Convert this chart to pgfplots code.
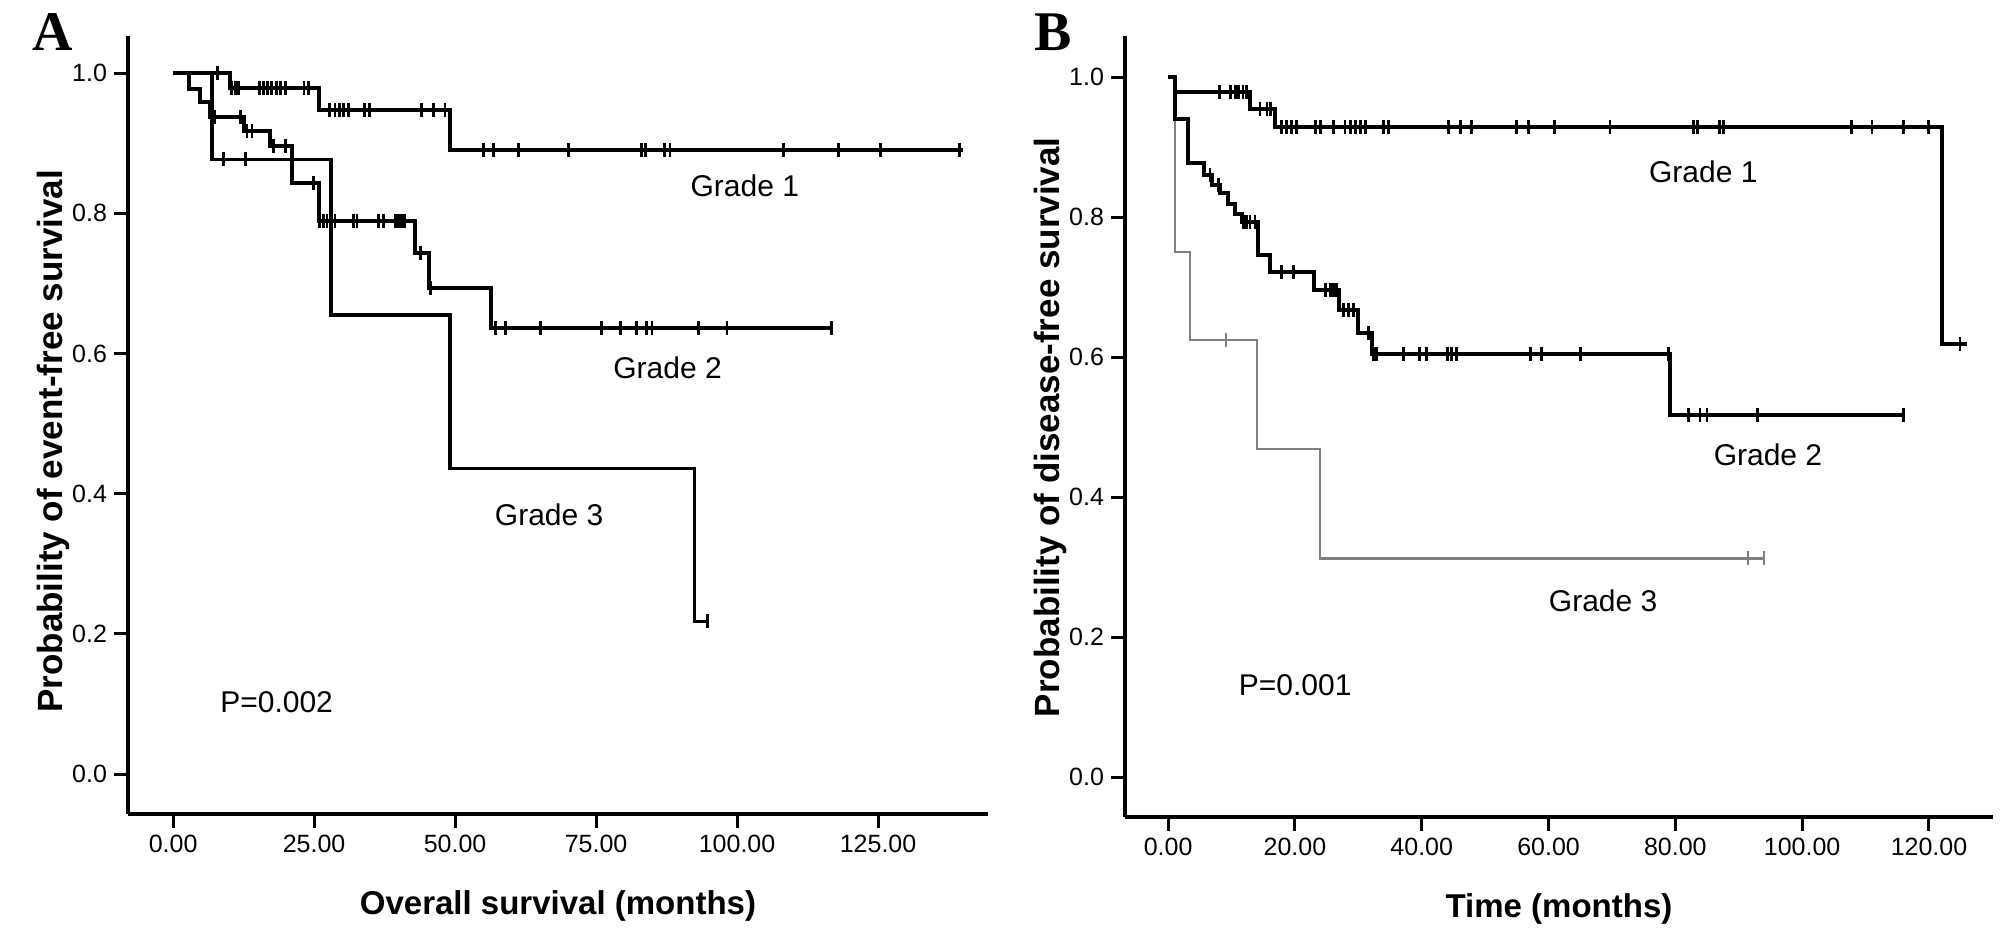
\documentclass[border=0pt]{standalone}
\usepackage{fontspec}
\setmainfont{Liberation Sans}
\newfontfamily\panelfont{Liberation Serif}
\usepackage{pgfplots}
\pgfplotsset{compat=1.18}

\pgfplotsset{
  kmaxis/.style={
    scale only axis,
    axis x line*=bottom, axis y line*=left,
    axis line style={line width=1.8pt},
    every tick/.style={black, line width=1.5pt},
    tick align=outside,
    major tick length=7pt,
    ytick={0,0.2,0.4,0.6,0.8,1.0},
    tick label style={font=\fontsize{12.5}{14}\selectfont},
    /pgf/number format/assume math mode=true,
    yticklabel style={/pgf/number format/.cd, fixed, fixed zerofill, precision=1},
    xticklabel style={/pgf/number format/.cd, fixed, fixed zerofill, precision=2, 1000 sep={}},
    xlabel style={font=\fontsize{16.5}{19}\selectfont\bfseries, at={([yshift=-38pt]axis description cs:0.5,0)}, anchor=north, inner sep=0pt},
    clip=false,
  },
  km/.style={const plot mark left, line width=2pt, black, no marks},
  cens/.style={only marks, mark=|, mark size=3.5pt, mark options={line width=1.4pt}, black},
}
\tikzset{gtext/.style={anchor=west, font=\fontsize{15}{17}\selectfont, inner sep=0pt}}

\begin{document}
\begin{tikzpicture}
\useasboundingbox (0,0) rectangle (1004pt,468.5pt);

\node[anchor=north west, inner sep=0pt, font=\fontsize{28}{30}\panelfont\bfseries] at (16pt,462pt) {A};
\node[anchor=north west, inner sep=0pt, font=\fontsize{28}{30}\panelfont\bfseries] at (517pt,462pt) {B};

% ---------------- Panel A ----------------
\begin{axis}[kmaxis,
  at={(64pt,61.5pt)}, anchor=south west,
  width=430pt, height=389pt,
  xmin=-8, xmax=144.5, ymin=-0.057, ymax=1.053,
  xtick={0,25,50,75,100,125},
  xlabel={Overall survival (months)},
  ylabel={Probability of event-free survival},
  ylabel style={font=\fontsize{17.5}{20}\selectfont\bfseries, at={([xshift=-37.5pt]axis description cs:0,0.479)}, anchor=center, inner sep=0pt},
]
% Grade 3
\addplot[km, line width=1.6pt] coordinates {(0,1.0) (6.9,0.877) (28.0,0.655) (49.1,0.436) (92.5,0.218) (94.7,0.218)};
\addplot[cens] coordinates {(8.9,0.877) (12.9,0.877) (94.7,0.218)};
% Grade 2
\addplot[km] coordinates {(0,1.0) (2.9,0.978) (4.8,0.959) (6.6,0.938) (12.5,0.918) (17.1,0.896) (21.0,0.843) (25.9,0.789) (42.9,0.744) (45.3,0.693) (56.3,0.636) (116.8,0.636)};
\addplot[cens] coordinates {
 (7.4,0.938) (11.9,0.938) (13.1,0.918) (14.0,0.918) (17.8,0.896) (19.9,0.896) (24.9,0.843)
 (26.0,0.789) (26.7,0.789) (27.3,0.789) (28.1,0.789) (28.7,0.789) (32.0,0.789) (32.6,0.789)
 (36.4,0.789) (37.3,0.789) (39.4,0.789) (39.9,0.789) (40.5,0.789) (41.1,0.789)
 (43.9,0.744) (45.6,0.693)
 (57.1,0.636) (58.9,0.636) (65.1,0.636) (76.0,0.636) (79.3,0.636) (82.2,0.636) (84.0,0.636)
 (84.9,0.636) (93.1,0.636) (98.2,0.636) (116.8,0.636)};
% Grade 1
\addplot[km] coordinates {(0,1.0) (10.1,0.979) (25.9,0.947) (49.1,0.891) (140.1,0.891)};
\addplot[cens] coordinates {
 (7.9,1.0)
 (10.4,0.979) (11.0,0.979) (11.6,0.979) (15.3,0.979) (16.0,0.979) (16.8,0.979) (17.5,0.979)
 (18.3,0.979) (19.0,0.979) (19.9,0.979) (23.2,0.979) (24.0,0.979)
 (27.8,0.947) (28.7,0.947) (29.5,0.947) (30.2,0.947) (31.1,0.947) (34.0,0.947) (34.8,0.947)
 (44.1,0.947) (46.2,0.947) (48.2,0.947)
 (55.0,0.891) (56.8,0.891) (61.2,0.891) (70.1,0.891) (83.1,0.891) (83.7,0.891) (87.2,0.891)
 (88.1,0.891) (108.2,0.891) (118.0,0.891) (125.4,0.891) (139.5,0.891)};
\node[gtext] at (axis cs:91.7,0.84) {Grade 1};
\node[gtext] at (axis cs:78,0.579) {Grade 2};
\node[gtext] at (axis cs:57,0.37) {Grade 3};
\node[gtext] at (axis cs:8.3,0.102) {P=0.002};
\end{axis}

% ---------------- Panel B ----------------
\begin{axis}[kmaxis,
  at={(562.5pt,60pt)}, anchor=south west,
  width=434pt, height=390.5pt,
  xmin=-6.8, xmax=130.1, ymin=-0.057, ymax=1.059,
  xtick={0,20,40,60,80,100,120},
  xlabel={Time (months)},
  ylabel={Probability of disease-free survival},
  ylabel style={font=\fontsize{17.5}{20}\selectfont\bfseries, at={([xshift=-37.5pt]axis description cs:0,0.499)}, anchor=center, inner sep=0pt},
]
% Grade 3 (grey)
\addplot[km, line width=1.1pt, gray] coordinates {(0,1.0) (1.1,0.750) (3.4,0.625) (14.0,0.469) (24.0,0.3125) (94.0,0.3125)};
\addplot[cens, gray, mark options={line width=1.1pt}] coordinates {(9.1,0.625) (91.5,0.3125) (94.0,0.3125)};
% Grade 2
\addplot[km] coordinates {(0,1.0) (1.1,0.941) (3.2,0.877) (5.6,0.860) (6.9,0.846) (8.2,0.834) (9.5,0.819) (10.6,0.805) (11.6,0.793) (14.1,0.746) (16.1,0.722) (23.0,0.696) (27.0,0.667) (30.0,0.635) (32.2,0.605) (79.2,0.517) (116.0,0.517)};
\addplot[cens] coordinates {
 (6.6,0.860) (8.0,0.846) (11.9,0.793) (12.4,0.793) (12.9,0.793) (13.7,0.793)
 (17.9,0.722) (19.8,0.722) (24.8,0.696) (25.6,0.696) (26.1,0.696) (26.6,0.696)
 (27.7,0.667) (28.4,0.667) (29.2,0.667) (31.6,0.635)
 (32.4,0.605) (32.9,0.605) (37.1,0.605) (39.7,0.605) (40.8,0.605) (44.0,0.605) (44.7,0.605)
 (45.5,0.605) (57.1,0.605) (58.9,0.605) (65.0,0.605) (78.9,0.605)
 (82.1,0.517) (83.9,0.517) (85.0,0.517) (92.9,0.517) (116.0,0.517)};
% Grade 1
\addplot[km] coordinates {(0,1.0) (1.1,0.979) (12.9,0.955) (16.9,0.929) (122.0,0.619) (126.0,0.619)};
\addplot[cens] coordinates {
 (8.1,0.979) (9.8,0.979) (10.6,0.979) (11.1,0.979) (11.8,0.979) (12.4,0.979)
 (14.5,0.955) (15.6,0.955) (16.1,0.955)
 (17.9,0.929) (18.7,0.929) (19.5,0.929) (20.3,0.929) (23.2,0.929) (24.0,0.929) (26.1,0.929)
 (27.9,0.929) (28.7,0.929) (29.5,0.929) (30.3,0.929) (31.1,0.929) (34.0,0.929) (34.8,0.929)
 (44.2,0.929) (46.1,0.929) (47.9,0.929) (55.0,0.929) (56.8,0.929) (61.0,0.929) (69.7,0.929)
 (82.9,0.929) (83.5,0.929) (86.9,0.929) (87.6,0.929) (107.8,0.929) (111.0,0.929) (116.0,0.929)
 (119.9,0.929) (124.9,0.619)};
\node[gtext] at (axis cs:75.8,0.865) {Grade 1};
\node[gtext] at (axis cs:86,0.46) {Grade 2};
\node[gtext] at (axis cs:60,0.252) {Grade 3};
\node[gtext] at (axis cs:11.1,0.131) {P=0.001};
\end{axis}
\end{tikzpicture}
\end{document}
